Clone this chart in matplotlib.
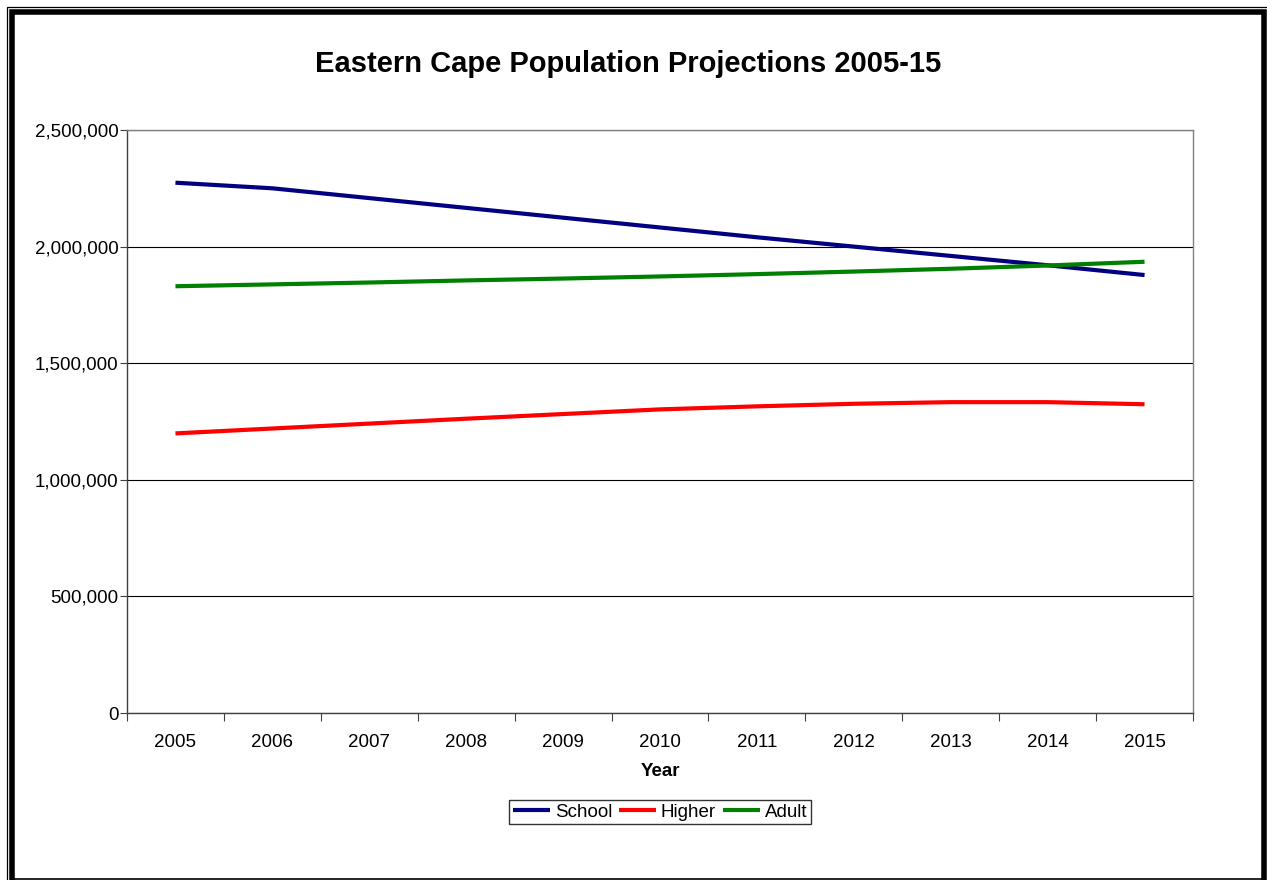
import matplotlib
matplotlib.use("Agg")
import matplotlib.pyplot as plt
from matplotlib.lines import Line2D
from matplotlib.ticker import FuncFormatter, MultipleLocator

plt.rcParams['font.family'] = ['Liberation Sans', 'DejaVu Sans']

years = ["2005", "2006", "2007", "2008", "2009", "2010", "2011", "2012", "2013", "2014", "2015"]
school = [2274000, 2250000, 2208000, 2166000, 2124000, 2082000, 2040000, 2000000, 1960000, 1920000, 1878000]
higher = [1199000, 1220000, 1241000, 1262000, 1282000, 1302000, 1315000, 1326000, 1333000, 1333000, 1324000]
adult = [1830000, 1838000, 1846000, 1855000, 1863000, 1872000, 1882000, 1893000, 1905000, 1919000, 1935000]

W, H = 1267, 880
fig = plt.figure(figsize=(W / 100, H / 100), dpi=100)
fig.patch.set_facecolor('white')

ax = fig.add_axes([127 / W, 1 - 713 / H, (1193 - 127) / W, (713 - 130) / H])
x = list(range(len(years)))
ax.plot(x, school, color='#000080', lw=3.0, label='School', solid_capstyle='butt')
ax.plot(x, higher, color='#FF0000', lw=3.0, label='Higher', solid_capstyle='butt')
ax.plot(x, adult, color='#008000', lw=3.0, label='Adult', solid_capstyle='butt')

ax.set_xlim(-0.5, len(years) - 0.5)
ax.set_ylim(0, 2500000)
ax.yaxis.set_major_locator(MultipleLocator(500000))
ax.yaxis.set_major_formatter(FuncFormatter(lambda v, p: f"{int(v):,}"))
ax.grid(axis='y', color='black', lw=0.8)
ax.set_axisbelow(True)

# category ticks between categories, labels centred
ax.set_xticks([i - 0.5 for i in range(len(years) + 1)])
ax.set_xticklabels([])
ax.set_xticks(x, minor=True)
ax.set_xticklabels(years, minor=True)
ax.tick_params(axis='x', which='major', direction='out', length=6, width=0.8, color='#404040')
ax.tick_params(axis='x', which='minor', length=0, pad=15, labelsize=13.5)
ax.tick_params(axis='y', direction='out', length=5, width=0.8, color='#404040', labelsize=13.5, pad=1)

for s in ['left', 'bottom']:
    ax.spines[s].set_color('#404040')
    ax.spines[s].set_linewidth(1.0)
for s in ['top', 'right']:
    ax.spines[s].set_color('#808080')
    ax.spines[s].set_linewidth(1.0)

ax.set_xlabel('Year', fontsize=13.5, fontweight='bold', labelpad=9)

fig.text(628 / W, 1 - 64 / H, 'Eastern Cape Population Projections 2005-15',
         ha='center', va='center', fontsize=21, fontweight='bold')

leg = ax.legend(loc='center', bbox_to_anchor=(660 / W, 1 - 812 / H), bbox_transform=fig.transFigure,
                ncol=3, frameon=True, fancybox=False, edgecolor='black', fontsize=13.5,
                handlelength=2.0, handletextpad=0.25, columnspacing=0.35, borderpad=0.2,
                borderaxespad=0)
leg.get_frame().set_linewidth(1.0)


def px_line(xs, ys, lw, color):
    fig.add_artist(Line2D([a / W for a in xs], [1 - b / H for b in ys],
                          transform=fig.transFigure, lw=lw, color=color,
                          solid_joinstyle='miter', solid_capstyle='projecting'))


# outer thin frame
px_line([7, 7, 1267], [880, 7, 7], 0.9, '#000000')
# thick frame
px_line([12, 12, 1264, 1264], [880, 12, 12, 880], 4.0, '#000000')
# bottom line
px_line([12, 1264], [878.5, 878.5], 1.2, '#000000')

fig.savefig('out.png', dpi=100, facecolor='white')
